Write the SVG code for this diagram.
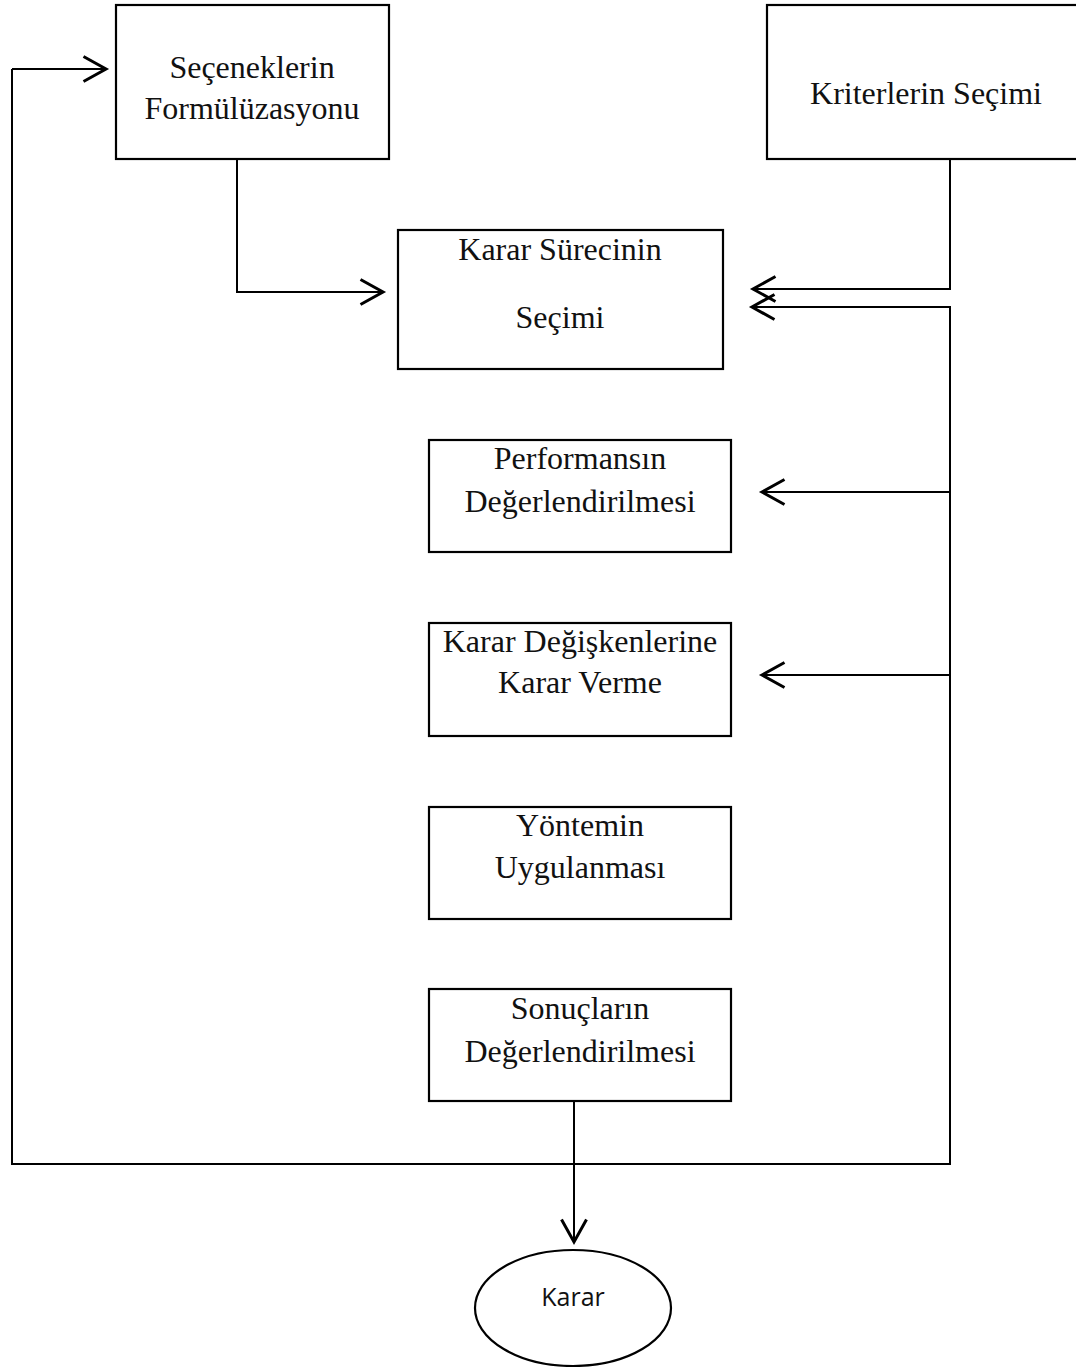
<svg xmlns="http://www.w3.org/2000/svg" width="1076" height="1367" viewBox="0 0 1076 1367">
<style>
.box{fill:#fff;stroke:#000;stroke-width:2.2}
.t{font-family:"Liberation Serif","Times New Roman",serif;font-size:32px;fill:#111;text-anchor:middle}
.s{font-family:"Open Sans","Liberation Sans",sans-serif;font-size:25px;fill:#111;text-anchor:middle}
.c{fill:none;stroke:#000;stroke-width:2}
</style>
<defs>
<marker id="ah" markerUnits="userSpaceOnUse" markerWidth="30" markerHeight="30" viewBox="-20 -12 24 24" refX="0" refY="0" orient="auto" overflow="visible">
<path d="M-18,-10 L0,0 L-18,10" fill="none" stroke="#000" stroke-width="2.4"/>
</marker>
</defs>
<rect width="1076" height="1367" fill="#fff"/>
<g id="connectors">
<path class="c" d="M12,69 L106,69" marker-end="url(#ah)"/>
<path class="c" d="M12,69 L12,1164 L950,1164 L950,307 L752,307" marker-end="url(#ah)"/>
<path class="c" d="M237,159 L237,292 L383,292" marker-end="url(#ah)"/>
<path class="c" d="M950,159 L950,289 L753,289" marker-end="url(#ah)"/>
<path class="c" d="M950,492 L762,492" marker-end="url(#ah)"/>
<path class="c" d="M950,675 L762,675" marker-end="url(#ah)"/>
<path class="c" d="M574,1101 L574,1242" marker-end="url(#ah)"/>
</g>
<g id="secenekler">
<rect class="box" x="116" y="5" width="273" height="154"/>
<text class="t" x="252" y="78">Seçeneklerin</text>
<text class="t" x="252" y="119">Formülüzasyonu</text>
</g>
<g id="kriterler">
<rect class="box" x="767" y="5" width="312" height="154"/>
<text class="t" x="926" y="104">Kriterlerin Seçimi</text>
</g>
<g id="karar-sureci">
<rect class="box" x="398" y="230" width="325" height="139"/>
<text class="t" x="560" y="260">Karar Sürecinin</text>
<text class="t" x="560" y="328">Seçimi</text>
</g>
<g id="performans">
<rect class="box" x="429" y="440" width="302" height="112"/>
<text class="t" x="580" y="469">Performansın</text>
<text class="t" x="580" y="512">Değerlendirilmesi</text>
</g>
<g id="karar-degiskenleri">
<rect class="box" x="429" y="623" width="302" height="113"/>
<text class="t" x="580" y="652">Karar Değişkenlerine</text>
<text class="t" x="580" y="693">Karar Verme</text>
</g>
<g id="yontem">
<rect class="box" x="429" y="807" width="302" height="112"/>
<text class="t" x="580" y="836">Yöntemin</text>
<text class="t" x="580" y="878">Uygulanması</text>
</g>
<g id="sonuclar">
<rect class="box" x="429" y="989" width="302" height="112"/>
<text class="t" x="580" y="1019">Sonuçların</text>
<text class="t" x="580" y="1062">Değerlendirilmesi</text>
</g>
<g id="karar">
<ellipse class="box" cx="573" cy="1308" rx="98" ry="58"/>
<text class="s" x="573" y="1306">Karar</text>
</g>
</svg>
